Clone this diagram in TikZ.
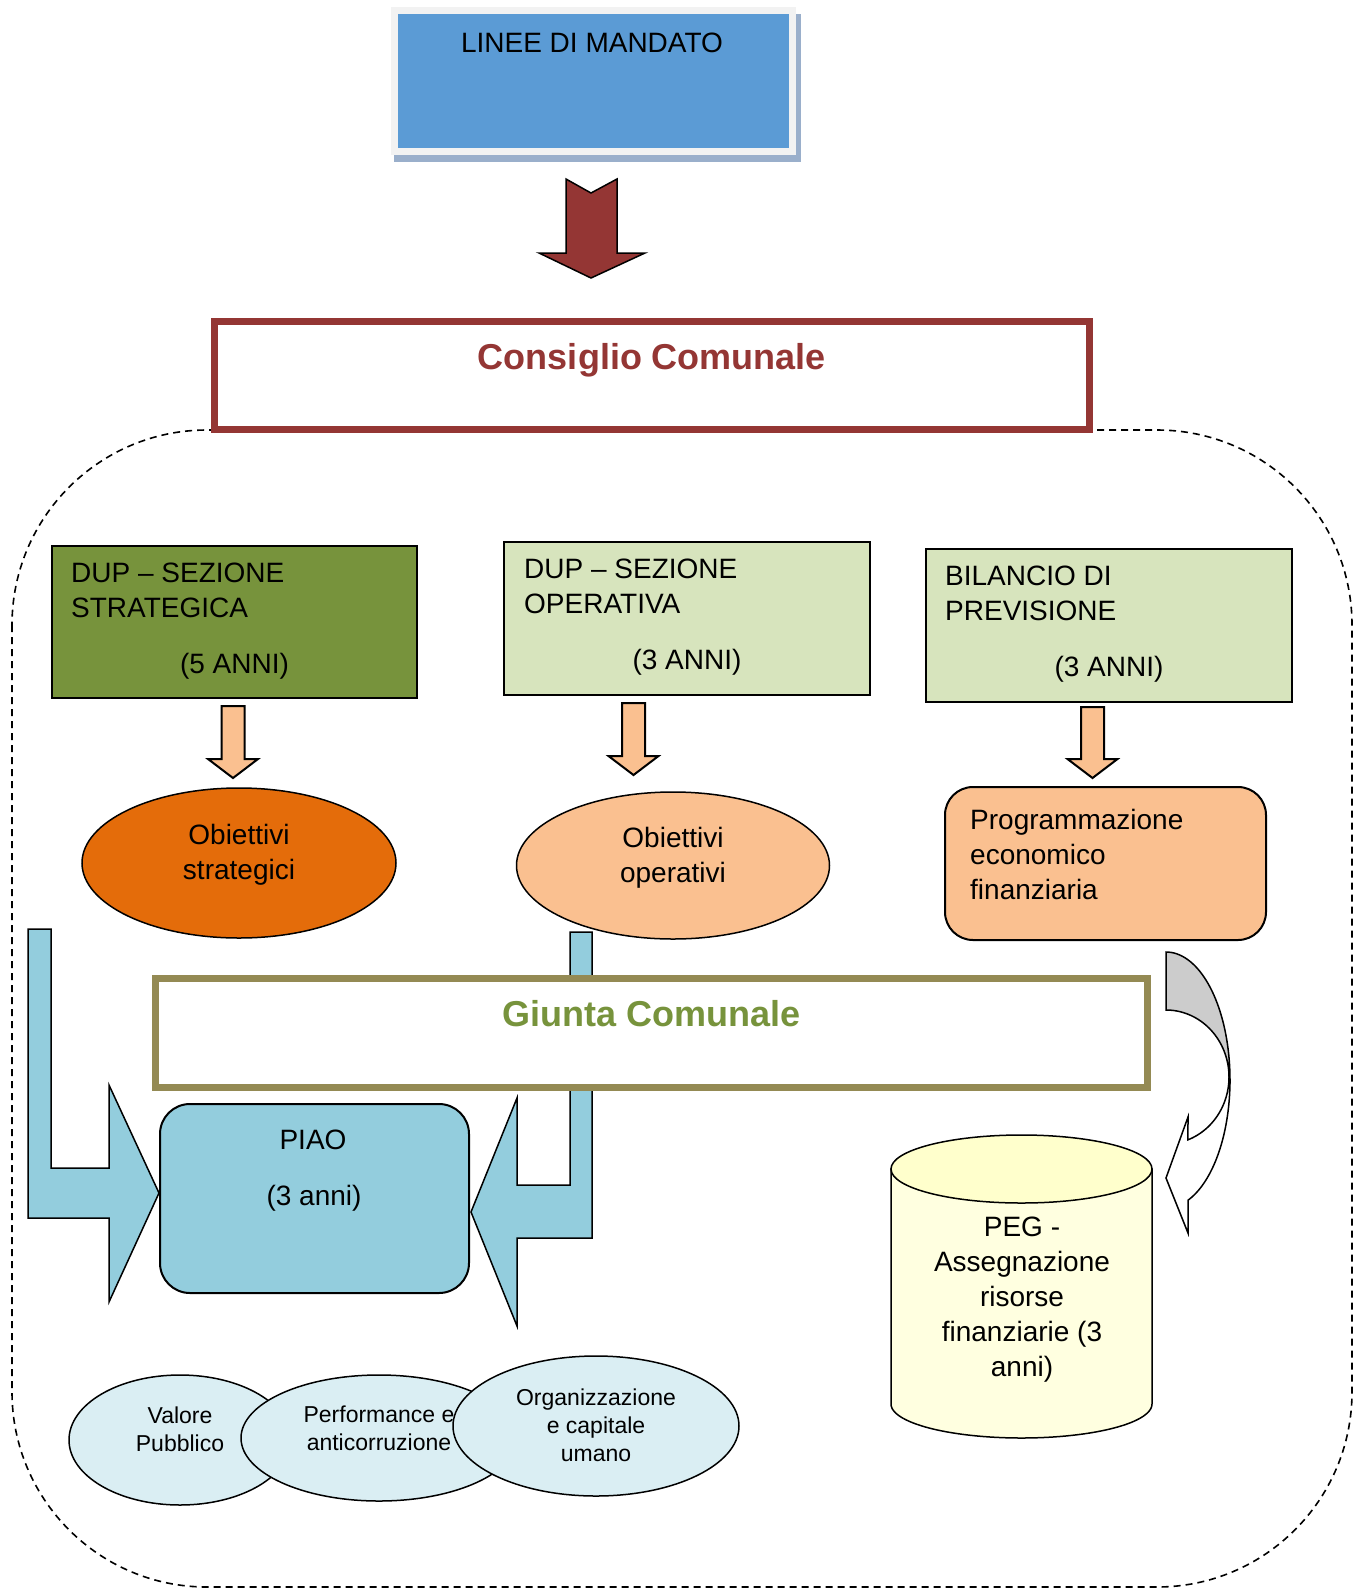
\documentclass[tikz,border=0pt]{standalone}
\usepackage{fontspec}
\setmainfont{Liberation Sans}
\usetikzlibrary{shapes.geometric}

\definecolor{mandblue}{HTML}{5B9BD5}
\definecolor{mandframe}{HTML}{F2F2F2}
\definecolor{mandshadow}{HTML}{9AAFCB}
\definecolor{wine}{HTML}{943634}
\definecolor{olivegreen}{HTML}{77933C}
\definecolor{sage}{HTML}{D7E4BD}
\definecolor{peach}{HTML}{FAC090}
\definecolor{pumpkin}{HTML}{E46C0A}
\definecolor{sky}{HTML}{93CDDD}
\definecolor{paleblue}{HTML}{DAEEF3}
\definecolor{khaki}{HTML}{948A54}
\definecolor{pegtop}{HTML}{FFFFCC}
\definecolor{pegbody}{HTML}{FFFFE0}
\definecolor{bendgray}{HTML}{CCCCCC}

% downward block arrow: centre x, top y, tip y
\newcommand{\peachdown}[3]{%
  \draw[peacharrow] (#1-11.5,#2) -- (#1+11.5,#2) -- (#1+11.5,#3-19)
    -- (#1+25,#3-19) -- (#1,#3) -- (#1-25,#3-19) -- (#1-11.5,#3-19) -- cycle;}

\begin{document}
\begin{tikzpicture}[x=1pt, y=-1pt,
  txt/.style={inner sep=0pt, font=\fontsize{28}{35}\selectfont},
  smalltxt/.style={inner sep=0pt, font=\fontsize{23}{28}\selectfont},
  headline/.style={inner sep=0pt, font=\fontsize{36}{43}\selectfont\bfseries},
  panel/.style={draw=black, line width=2pt, inner sep=0pt},
  oval/.style={ellipse, draw=black, line width=1.5pt, inner sep=0pt},
  peacharrow/.style={draw=black, fill=peach, line width=2pt, line join=miter},
  skyarrow/.style={draw=black, fill=sky, line width=1.5pt, line join=miter},
  frame/.style={fill=white, inner sep=0pt, line width=7pt}
]
\useasboundingbox (0,0) rectangle (1358,1588);
\fill[white] (0,0) rectangle (1358,1588);

% dashed enclosure of the council/committee area
\draw[dashed, dash pattern=on 7pt off 5pt, line width=1.6pt, rounded corners=195pt]
  (12,430) rectangle (1352,1587);

% mandate lines
\node[fill=mandshadow, minimum width=407pt, minimum height=148pt, inner sep=0pt] (mandshade) at (597,88) {};
\node[fill=mandblue, draw=mandframe, line width=7pt, minimum width=398pt, minimum height=141pt, inner sep=0pt] (mandato) at (593,81) {};
\node[txt, anchor=base] (mandato-t) at (592,52) {LINEE DI MANDATO};

\draw[fill=wine, line width=1.5pt, line join=miter]
  (566,179) -- (591,193) -- (617,179) -- (617,253) -- (645,253) -- (591,278) -- (539,253) -- (566,253) -- cycle;

% council
\node[frame, draw=wine, minimum width=875pt, minimum height=108pt] (consiglio) at (652,375) {};
\node[headline, text=wine, anchor=base] (consiglio-t) at (652,369) {Consiglio Comunale};

% planning documents
\node[panel, fill=olivegreen, minimum width=365pt, minimum height=152pt] (dupS) at (234.5,622) {};
\node[txt, anchor=base west] (dupS-1) at (71,582) {DUP – SEZIONE};
\node[txt, anchor=base west] (dupS-2) at (71,617) {STRATEGICA};
\node[txt, anchor=base] (dupS-3) at (234.5,673) {(5 ANNI)};

\node[panel, fill=sage, minimum width=366pt, minimum height=153pt] (dupO) at (687,618.5) {};
\node[txt, anchor=base west] (dupO-1) at (524,578) {DUP – SEZIONE};
\node[txt, anchor=base west] (dupO-2) at (524,613) {OPERATIVA};
\node[txt, anchor=base] (dupO-3) at (687,669) {(3 ANNI)};

\node[panel, fill=sage, minimum width=366pt, minimum height=153pt] (bil) at (1109,625.5) {};
\node[txt, anchor=base west] (bil-1) at (945,585) {BILANCIO DI};
\node[txt, anchor=base west] (bil-2) at (945,620) {PREVISIONE};
\node[txt, anchor=base] (bil-3) at (1109,676) {(3 ANNI)};

\peachdown{233}{706}{778}
\peachdown{633.5}{703}{775}
\peachdown{1092.5}{707}{778}

% objectives
\node[oval, fill=pumpkin, minimum width=314pt, minimum height=150pt] (objS) at (239,863) {};
\node[txt, anchor=base] (objS-1) at (239,844) {Obiettivi};
\node[txt, anchor=base] (objS-2) at (239,879) {strategici};

\node[oval, fill=peach, minimum width=313pt, minimum height=147pt] (objO) at (673,865.5) {};
\node[txt, anchor=base] (objO-1) at (673,847) {Obiettivi};
\node[txt, anchor=base] (objO-2) at (673,882) {operativi};

\node[panel, rounded corners=28pt, fill=peach, minimum width=321pt, minimum height=153pt] (prog) at (1105.5,863.5) {};
\node[txt, anchor=base west] (prog-1) at (970,829) {Programmazione};
\node[txt, anchor=base west] (prog-2) at (970,864) {economico};
\node[txt, anchor=base west] (prog-3) at (970,899) {finanziaria};

% bent arrows feeding the PIAO
\draw[skyarrow] (28,929) -- (51,929) -- (51,1168) -- (109,1168) -- (109,1085) -- (159,1193)
  -- (109,1302) -- (109,1218) -- (28,1218) -- cycle;
\draw[skyarrow] (592,932) -- (570,932) -- (570,1185) -- (517,1185) -- (517,1098) -- (471,1212)
  -- (517,1326) -- (517,1238) -- (592,1238) -- cycle;

% executive committee
\node[frame, draw=khaki, minimum width=992pt, minimum height=109pt] (giunta) at (651.5,1033) {};
\node[headline, text=olivegreen, anchor=base] (giunta-t) at (651.5,1026) {Giunta Comunale};

% PIAO
\node[panel, rounded corners=30pt, fill=sky, minimum width=309pt, minimum height=189pt] (piao) at (314.5,1198.5) {};
\node[txt, anchor=base] (piao-1) at (313,1149) {PIAO};
\node[txt, anchor=base] (piao-2) at (314,1205) {(3 anni)};

% curved arrow towards the PEG
\draw[fill=bendgray, line width=1.5pt]
  plot[domain=-90:0, samples=40] ({1166+64*cos(\x)}, {1080+128*sin(\x)})
  -- plot[domain=0:-90, samples=40] ({1166+63*cos(\x)}, {1077+67*sin(\x)}) -- cycle;
\draw[fill=white, line width=1.5pt, line join=miter]
  plot[domain=0:69.9, samples=40] ({1166+64*cos(\x)}, {1080+128*sin(\x)})
  -- (1188,1233) -- (1166,1178) -- (1188,1117)
  -- plot[domain=69.6:0, samples=40] ({1166+63*cos(\x)}, {1077+67*sin(\x)}) -- cycle;

% PEG cylinder
\draw[fill=pegbody, line width=1.5pt] (891,1169) -- (891,1404)
  -- plot[domain=180:0, samples=60] ({1021.5+130.5*cos(\x)}, {1404+34*sin(\x)})
  -- (1152,1169) -- cycle;
\draw[fill=pegtop, line width=1.5pt] (1021.5,1169) ellipse [x radius=130.5pt, y radius=34pt];
\node[txt, anchor=base] (peg-1) at (1022,1236) {PEG -};
\node[txt, anchor=base] (peg-2) at (1022,1271) {Assegnazione};
\node[txt, anchor=base] (peg-3) at (1022,1306) {risorse};
\node[txt, anchor=base] (peg-4) at (1022,1341) {finanziarie (3};
\node[txt, anchor=base] (peg-5) at (1022,1376) {anni)};

% PIAO sections
\node[oval, fill=paleblue, minimum width=222pt, minimum height=130pt] (valore) at (180,1440) {};
\node[smalltxt, anchor=base] (valore-1) at (180,1423) {Valore};
\node[smalltxt, anchor=base] (valore-2) at (180,1451) {Pubblico};

\node[oval, fill=paleblue, minimum width=276pt, minimum height=126pt] (perf) at (379,1438) {};
\node[smalltxt, anchor=base] (perf-1) at (379,1422) {Performance e};
\node[smalltxt, anchor=base] (perf-2) at (379,1450) {anticorruzione};

\node[oval, fill=paleblue, minimum width=286pt, minimum height=140pt] (org) at (596,1426) {};
\node[smalltxt, anchor=base] (org-1) at (596,1405) {Organizzazione};
\node[smalltxt, anchor=base] (org-2) at (596,1433) {e capitale};
\node[smalltxt, anchor=base] (org-3) at (596,1461) {umano};
\end{tikzpicture}
\end{document}
